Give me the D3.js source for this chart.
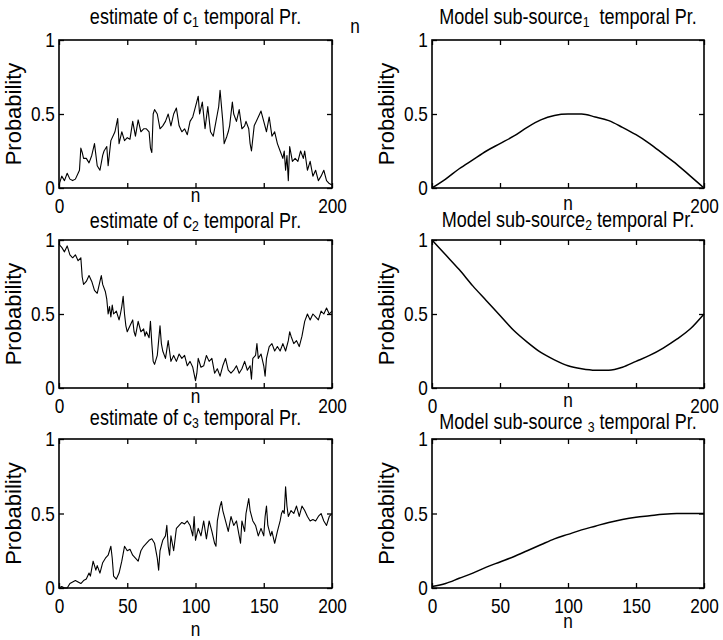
<!DOCTYPE html>
<html>
<head>
<meta charset="utf-8">
<script src="https://cdn.jsdelivr.net/npm/d3@7"></script>
<style>
  body { margin: 0; background: #fff; }
  text { font-family: "Liberation Sans", Arial, sans-serif; fill: #000; }
</style>
</head>
<body>
<svg id="fig" width="723" height="640"></svg>
<script>
// estimated temporal probabilities, [n, p]
const est1 = [[0,0.02],[2,0.08],[4,0.05],[6,0.1],[8,0.06],[10,0.05],[12,0.06],[14,0.1],[15,0.12],[16,0.27],[17,0.24],[18,0.2],[20,0.2],[22,0.17],[24,0.22],[26,0.3],[28,0.15],[30,0.12],[32,0.22],[33,0.25],[35,0.28],[36,0.15],[38,0.32],[40,0.36],[41,0.38],[43,0.47],[44,0.3],[46,0.38],[48,0.32],[50,0.34],[52,0.33],[54,0.45],[56,0.35],[58,0.46],[60,0.38],[62,0.4],[64,0.4],[66,0.38],[67,0.27],[68,0.24],[69,0.5],[70,0.53],[72,0.5],[74,0.4],[76,0.42],[78,0.45],[80,0.5],[82,0.42],[84,0.5],[86,0.54],[88,0.42],[90,0.38],[92,0.4],[94,0.36],[96,0.45],[98,0.48],[100,0.55],[102,0.62],[103,0.5],[105,0.58],[107,0.4],[109,0.55],[111,0.38],[113,0.35],[115,0.45],[116,0.5],[117,0.55],[118,0.66],[120,0.45],[121,0.3],[123,0.35],[124,0.38],[125,0.42],[127,0.58],[128,0.5],[130,0.45],[132,0.53],[134,0.4],[136,0.42],[137,0.45],[139,0.4],[140,0.3],[141,0.25],[143,0.42],[146,0.48],[148,0.52],[150,0.45],[152,0.38],[154,0.48],[156,0.35],[158,0.38],[160,0.3],[162,0.25],[164,0.2],[165,0.25],[166,0.12],[167,0.22],[168,0.05],[169,0.28],[171,0.18],[173,0.2],[175,0.18],[177,0.25],[179,0.2],[180,0.25],[182,0.12],[184,0.18],[186,0.08],[188,0.12],[190,0.05],[192,0.08],[194,0.12],[196,0.05],[198,0.03],[200,0.02]];

const est2 = [[0,0.97],[2,0.95],[4,0.92],[6,0.96],[8,0.9],[10,0.88],[12,0.9],[14,0.86],[16,0.88],[17,0.75],[18,0.7],[20,0.72],[22,0.76],[24,0.72],[26,0.66],[28,0.64],[30,0.72],[31,0.76],[32,0.7],[34,0.65],[35,0.6],[36,0.5],[37,0.55],[38,0.48],[39,0.56],[40,0.5],[42,0.52],[44,0.46],[45,0.5],[46,0.55],[47,0.62],[48,0.5],[49,0.42],[50,0.38],[52,0.42],[54,0.46],[55,0.38],[56,0.35],[58,0.45],[60,0.38],[62,0.4],[63,0.35],[64,0.38],[66,0.34],[67,0.45],[68,0.3],[69,0.18],[70,0.16],[72,0.22],[73,0.32],[74,0.42],[75,0.3],[76,0.25],[78,0.2],[80,0.32],[81,0.25],[82,0.18],[84,0.22],[86,0.18],[88,0.23],[90,0.2],[92,0.22],[94,0.15],[96,0.18],[98,0.14],[100,0.05],[101,0.1],[102,0.2],[104,0.14],[106,0.15],[108,0.22],[110,0.18],[112,0.2],[114,0.1],[116,0.13],[118,0.08],[120,0.15],[122,0.2],[124,0.12],[126,0.1],[128,0.12],[130,0.15],[132,0.1],[134,0.13],[136,0.18],[138,0.12],[140,0.15],[141,0.06],[142,0.2],[144,0.22],[145,0.3],[146,0.2],[148,0.23],[150,0.15],[151,0.08],[152,0.2],[154,0.28],[156,0.3],[158,0.25],[160,0.28],[162,0.25],[164,0.3],[166,0.25],[168,0.32],[169,0.38],[170,0.35],[172,0.3],[174,0.32],[176,0.28],[178,0.35],[180,0.45],[182,0.5],[184,0.46],[186,0.5],[188,0.48],[190,0.46],[192,0.52],[194,0.5],[196,0.54],[198,0.5],[200,0.52]];

const est3 = [[0,0.0],[2,0.01],[4,0.0],[6,0.0],[8,0.03],[10,0.04],[12,0.05],[14,0.04],[16,0.03],[18,0.05],[20,0.06],[22,0.1],[23,0.08],[25,0.18],[27,0.12],[28,0.15],[30,0.1],[32,0.17],[34,0.2],[36,0.22],[38,0.28],[39,0.2],[40,0.08],[42,0.06],[44,0.1],[46,0.18],[48,0.28],[50,0.25],[52,0.26],[54,0.22],[56,0.2],[58,0.18],[60,0.25],[62,0.28],[64,0.3],[66,0.32],[68,0.33],[70,0.3],[72,0.2],[73,0.12],[74,0.25],[76,0.32],[78,0.35],[79,0.42],[80,0.28],[81,0.22],[82,0.35],[84,0.25],[86,0.4],[88,0.42],[90,0.44],[92,0.43],[94,0.45],[96,0.42],[98,0.35],[99,0.48],[100,0.32],[102,0.4],[104,0.35],[106,0.45],[108,0.33],[110,0.45],[112,0.38],[114,0.3],[115,0.28],[116,0.45],[118,0.55],[119,0.58],[120,0.52],[122,0.45],[124,0.38],[126,0.48],[128,0.42],[130,0.45],[132,0.35],[133,0.3],[134,0.45],[136,0.38],[137,0.5],[139,0.6],[140,0.52],[142,0.45],[144,0.42],[146,0.35],[148,0.4],[150,0.35],[151,0.48],[152,0.55],[153,0.42],[155,0.35],[156,0.38],[158,0.3],[160,0.38],[162,0.45],[163,0.5],[164,0.52],[165,0.5],[166,0.68],[167,0.55],[168,0.48],[170,0.52],[172,0.5],[174,0.55],[176,0.48],[178,0.55],[180,0.52],[182,0.48],[184,0.45],[186,0.46],[188,0.45],[190,0.48],[192,0.5],[194,0.45],[196,0.42],[198,0.48],[200,0.5]];

// model sub-source curves, sampled every 10 steps of n
const modelN = [0,10,20,30,40,50,60,70,80,90,100,110,120,130,140,150,160,170,180,190,200];
const model1 = [0,0.06,0.13,0.19,0.25,0.3,0.35,0.41,0.46,0.49,0.5,0.5,0.48,0.455,0.41,0.36,0.3,0.23,0.16,0.08,0];
const model2 = [1,0.9,0.8,0.69,0.59,0.49,0.39,0.31,0.24,0.19,0.15,0.13,0.12,0.12,0.14,0.18,0.22,0.27,0.33,0.4,0.5];
const model3 = [0.01,0.03,0.065,0.1,0.14,0.175,0.21,0.25,0.29,0.33,0.36,0.39,0.415,0.44,0.46,0.475,0.485,0.495,0.5,0.5,0.5];

const xTicks = [0, 50, 100, 150, 200];
const yTicks = [0, 0.5, 1];

// titles as [text, subscript, text]
const titles = [
  ["estimate of c", "1", " temporal Pr."],
  ["Model sub-source", "1", "  temporal Pr."],
  ["estimate of c", "2", " temporal Pr."],
  ["Model sub-source", "2", " temporal Pr."],
  ["estimate of c", "3", " temporal Pr."],
  ["Model sub-source ", "3", " temporal Pr."]
];

const toPairs = (ns, ps) => ns.map((n, i) => [n, ps[i]]);

const cols = [[59, 332], [432, 704]];
const rows = [[40, 188], [240, 388], [439, 588]];
const squeeze = 0.82; // the scanned font is a condensed Helvetica

const panels = [
  {data: est1, row: 0, col: 0, xLabels: [0, 200], nY: 202, titleY: 24},
  {data: toPairs(modelN, model1), row: 0, col: 1, xLabels: [200], nY: 210, titleY: 24, smooth: true},
  {data: est2, row: 1, col: 0, xLabels: [0, 200], nY: 403, titleY: 228},
  {data: toPairs(modelN, model2), row: 1, col: 1, xLabels: [0, 200], nY: 407, titleY: 227, smooth: true},
  {data: est3, row: 2, col: 0, xLabels: xTicks, nY: 636, titleY: 425},
  {data: toPairs(modelN, model3), row: 2, col: 1, xLabels: xTicks, nY: 628, titleY: 429, smooth: true}
];

const svg = d3.select("#fig");

// text drawn condensed around its anchor point
function label(parent, x, y, size) {
  return parent.append("g")
      .attr("transform", `translate(${x},${y}) scale(${squeeze},1)`)
    .append("text")
      .attr("text-anchor", "middle")
      .attr("font-size", size);
}

panels.forEach((p, i) => {
  const [x0, x1] = cols[p.col];
  const [y0, y1] = rows[p.row];
  const x = d3.scaleLinear().domain([0, 200]).range([x0, x1]);
  const y = d3.scaleLinear().domain([0, 1]).range([y1, y0]);
  const g = svg.append("g");

  // inside ticks on all four sides
  const tickAxes = [
    [d3.axisBottom(x).tickValues(xTicks), y1, "x"],
    [d3.axisTop(x).tickValues(xTicks), y0, "x"],
    [d3.axisLeft(y).tickValues(yTicks), x0, "y"],
    [d3.axisRight(y).tickValues(yTicks), x1, "y"]
  ];
  tickAxes.forEach(([ax, pos, dir]) => {
    const a = g.append("g")
      .attr("transform", dir == "x" ? `translate(0,${pos})` : `translate(${pos},0)`)
      .call(ax.tickSizeInner(-5).tickSizeOuter(0).tickFormat(""));
    a.select(".domain").remove();
    a.selectAll("line").attr("stroke", "#000").attr("stroke-width", 1.3);
  });

  // y labels
  const yl = g.append("g")
    .attr("transform", `translate(${x0},0)`)
    .call(d3.axisLeft(y).tickValues(yTicks).tickSize(0).tickPadding(5).tickFormat(d => String(d)));
  yl.select(".domain").remove();
  yl.selectAll("text").attr("font-size", 21).attr("font-family", null)
    .attr("transform", `scale(${squeeze},1)`);

  // x labels
  const xl = g.append("g")
    .attr("transform", `translate(0,${y1})`)
    .call(d3.axisBottom(x).tickValues(p.xLabels).tickSize(0).tickPadding(10).tickFormat(d => String(d)));
  xl.select(".domain").remove();
  xl.selectAll("text").attr("font-size", 21).attr("font-family", null)
    .attr("transform", `scale(${squeeze},1)`);

  // box
  g.append("rect")
    .attr("x", x0).attr("y", y0)
    .attr("width", x1 - x0).attr("height", y1 - y0)
    .attr("fill", "none").attr("stroke", "#000").attr("stroke-width", 1.6);

  // series
  const line = d3.line()
    .x(d => x(d[0])).y(d => y(d[1]))
    .curve(p.smooth ? d3.curveMonotoneX : d3.curveLinear);
  g.append("path")
    .datum(p.data)
    .attr("d", line)
    .attr("fill", "none")
    .attr("stroke", "#000")
    .attr("stroke-width", p.smooth ? 1.5 : 1.1)
    .attr("stroke-linejoin", "round");

  // title
  const t = label(g, (x0 + x1) / 2, p.titleY, 22).attr("xml:space", "preserve");
  t.append("tspan").text(titles[i][0]);
  t.append("tspan").attr("font-size", 15).attr("dy", 3).text(titles[i][1]);
  t.append("tspan").attr("dy", -3).text(titles[i][2]);

  // y axis label
  g.append("text")
    .attr("transform", `translate(${x0 - 38},${(y0 + y1) / 2}) rotate(-90)`)
    .attr("text-anchor", "middle")
    .attr("font-size", 22)
    .text("Probability");

  // x axis label
  label(g, x(100), p.nY, 21).text("n");
});

// stray label at the top
label(svg, 355, 33, 21).text("n");
</script>
</body>
</html>
